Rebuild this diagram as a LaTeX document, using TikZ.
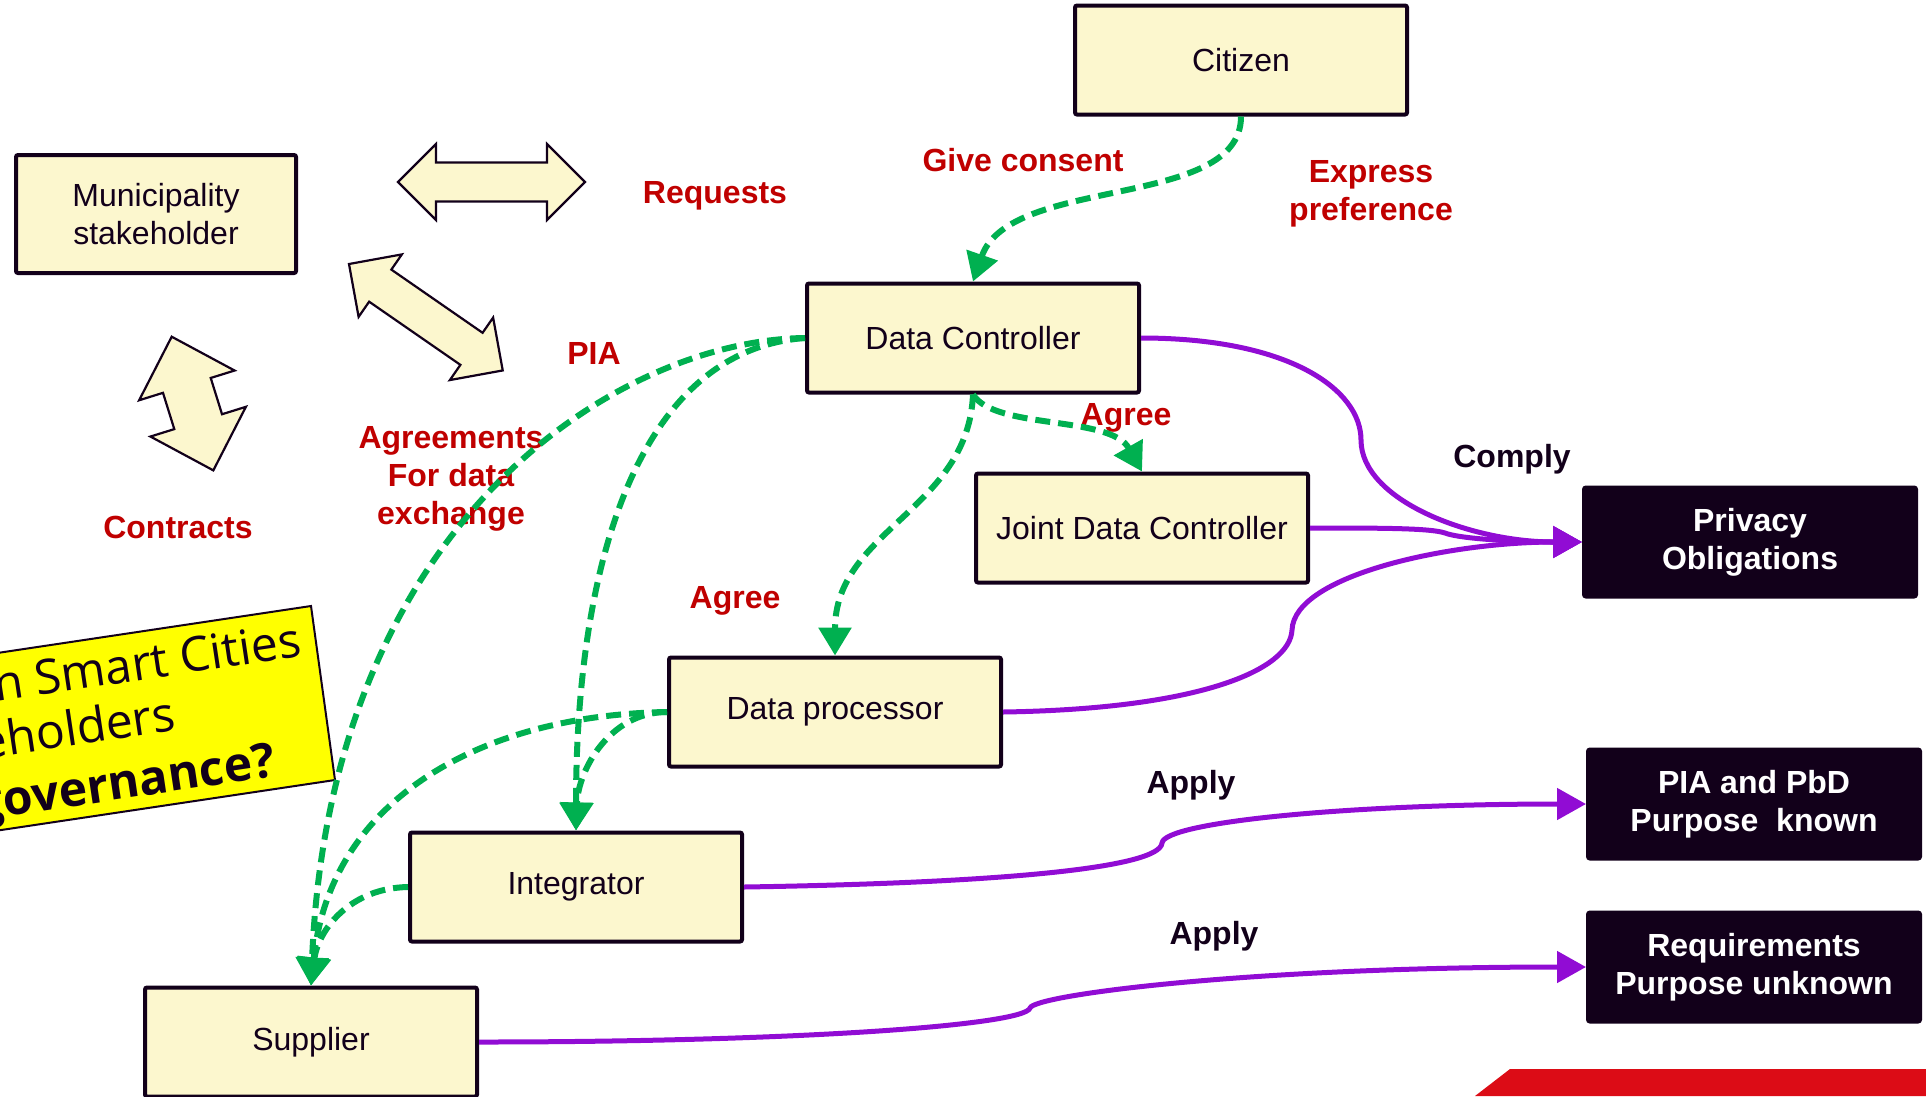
\documentclass[tikz,border=0pt]{standalone}
\usepackage{fontspec}
\setmainfont{Liberation Sans}
\newfontfamily\opensans{Open Sans}
\usetikzlibrary{arrows.meta}
\definecolor{boxfill}{RGB}{252,247,206}
\definecolor{ink}{RGB}{18,0,26}
\definecolor{lblred}{RGB}{192,0,0}
\definecolor{gr}{RGB}{0,176,80}
\definecolor{pu}{RGB}{145,12,212}
\definecolor{brandred}{RGB}{220,12,22}
\definecolor{hl}{RGB}{255,255,0}
\begin{document}
\begin{tikzpicture}[x=1pt,y=-1pt,
  font=\fontsize{32}{38}\selectfont,
  ybox/.style={draw=ink, line width=4pt, fill=boxfill, rounded corners=2pt,
    minimum width=332pt, minimum height=109pt, inner sep=0pt, align=center, text=ink},
  dbox/.style={draw=ink, line width=4pt, fill=ink, rounded corners=2pt,
    minimum width=332pt, minimum height=109pt, inner sep=0pt, align=center, text=white,
    font=\fontsize{32}{38}\selectfont\bfseries},
  lbl/.style={text=lblred, align=center, font=\fontsize{32}{38}\selectfont\bfseries},
  klbl/.style={text=ink, align=center, font=\fontsize{32}{38}\selectfont\bfseries},
  gflow/.style={draw=gr, line width=6pt, dash pattern=on 15pt off 8pt,
    -{Triangle[length=28pt,width=32pt]}},
  pflow/.style={draw=pu, line width=5pt, -{Triangle[length=29pt,width=31pt]}},
  barrow/.style={draw=ink, line width=2.2pt, fill=boxfill, line join=miter},
  hltext/.style={text=ink, rotate=8.5, anchor=base east, inner sep=0pt}
]
\useasboundingbox (0,0) rectangle (1926,1096);

% brand strip
\fill[brandred] (1475,1096) -- (1510,1069) -- (1926,1069) -- (1926,1096) -- cycle;

% highlighted question box
\filldraw[fill=hl, draw=ink, line width=2pt] (311,606) -- (335,780) -- (-159,854) -- (-183,680) -- cycle;
\node[hltext, font=\opensans\fontsize{48}{58}\selectfont] (q1) at (303,656) {n Smart Cities};
\node[hltext, font=\opensans\fontsize{48}{58}\selectfont] (q2) at (177,730) {eholders};
\node[hltext, font=\opensans\fontsize{48}{58}\selectfont\bfseries] (q3) at (277,776) {governance?};

% block double arrows
\begin{scope}[shift={(398,182)}]
  \draw[barrow] (0,0) -- (38,-38) -- (38,-19.5) -- (149,-19.5) -- (149,-38) -- (187,0)
    -- (149,38) -- (149,19.5) -- (38,19.5) -- (38,38) -- cycle;
\end{scope}
\begin{scope}[shift={(349,264)}, rotate=-34.7]
  \draw[barrow] (0,0) -- (38,-38) -- (38,-19.5) -- (149,-19.5) -- (149,-38) -- (187,0)
    -- (149,38) -- (149,19.5) -- (38,19.5) -- (38,38) -- cycle;
\end{scope}
\begin{scope}[shift={(171.7,336.7)}, rotate=-72.7]
  \draw[barrow] (0,0) -- (51,-50) -- (51,-25) -- (89,-25) -- (89,-50) -- (140,0)
    -- (89,50) -- (89,25) -- (51,25) -- (51,50) -- cycle;
\end{scope}

% boxes
\node[ybox] (cit) at (1241,60) {Citizen};
\node[ybox, minimum width=280pt, minimum height=118pt] (mun) at (156,214) {Municipality\\stakeholder};
\node[ybox] (dc) at (973,338) {Data Controller};
\node[ybox] (jdc) at (1142,528) {Joint Data Controller};
\node[ybox] (dp) at (835,712) {Data processor};
\node[ybox] (integ) at (576,887) {Integrator};
\node[ybox] (sup) at (311,1042) {Supplier};
\node[dbox] (po) at (1750,542) {Privacy\\Obligations};
\node[dbox] (pia) at (1754,804) {PIA and PbD\\Purpose\ \ known};
\node[dbox] (req) at (1754,967) {Requirements\\Purpose unknown};

% labels
\node[lbl] (lgive) at (1023,160) {Give consent};
\node[lbl] (lreq) at (715,196) {Requests};
\node[lbl] (lexp) at (1371,194) {Express\\preference};
\node[lbl] (lpia) at (594,353) {PIA};
\node[lbl] (lagr) at (451,479) {Agreements\\For data\\exchange};
\node[lbl] (lcon) at (178,527) {Contracts};
\node[lbl] (lag1) at (1126,418) {Agree};
\node[lbl] (lag2) at (735,601) {Agree};
\node[klbl] (lcomply) at (1512,459) {Comply};
\node[klbl] (lapp1) at (1191,785) {Apply};
\node[klbl] (lapp2) at (1214,936) {Apply};

% green dashed flows
\draw[gflow] (cit.south) .. controls (1241,210) and (1010,175) .. (dc.north);
\draw[gflow] (dc.south) .. controls (995,430) and (1110,415) .. (jdc.north);
\draw[gflow] (dc.south) .. controls (968,510) and (835,530) .. (dp.north);
\draw[gflow] (dc.west) .. controls (640,350) and (576,560) .. (integ.north);
\draw[gflow] (dc.west) .. controls (620,340) and (330,520) .. (sup.north);
\draw[gflow] (dp.west) .. controls (610,712) and (578,770) .. (integ.north);
\draw[gflow] (dp.west) .. controls (480,715) and (330,800) .. (sup.north);
\draw[gflow] (integ.west) .. controls (350,888) and (318,930) .. (sup.north);

% purple flows
\draw[pflow] (dc.east) .. controls (1290,338) and (1361,390) .. (1361,440)
  .. controls (1361,500) and (1470,542) .. (po.west);
\draw[pflow] (jdc.east) .. controls (1380,528) and (1430,528) .. (1445,533)
  .. controls (1460,539) and (1520,542) .. (po.west);
\draw[pflow] (dp.east) .. controls (1200,709) and (1290,670) .. (1292,630)
  .. controls (1294,575) and (1450,542) .. (po.west);
\draw[pflow] (integ.east) .. controls (1000,883) and (1160,868) .. (1162,843)
  .. controls (1164,822) and (1350,804) .. (pia.west);
\draw[pflow] (sup.east) .. controls (800,1042) and (1025,1025) .. (1030,1008)
  .. controls (1034,995) and (1250,967) .. (req.west);
\end{tikzpicture}
\end{document}
